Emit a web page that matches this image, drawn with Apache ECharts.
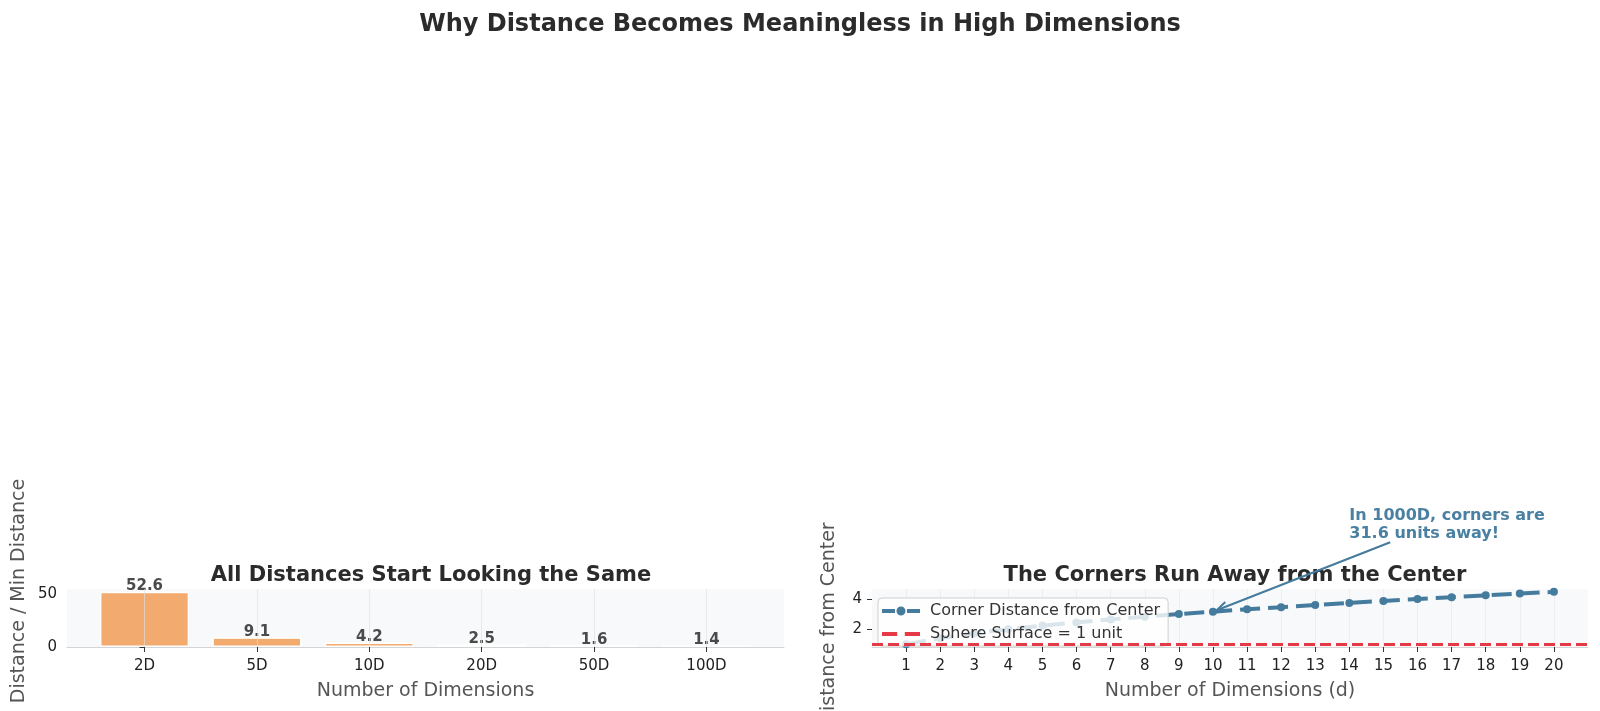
<!DOCTYPE html>
<html><head><meta charset="utf-8">
<script src="https://cdn.jsdelivr.net/npm/echarts@6/dist/echarts.min.js"></script>
<style>html,body{margin:0;padding:0;background:#fff}#c{width:1600px;height:711px}</style>
</head><body><div id="c"></div>
<script>
// ---- data ----
const dimLabels = ['2D', '5D', '10D', '20D', '50D', '100D'];
const distRatio = [52.6, 9.1, 4.2, 2.5, 1.6, 1.4];
const barYTicks = [0, 50];
const dims = [1, 2, 3, 4, 5, 6, 7, 8, 9, 10, 11, 12, 13, 14, 15, 16, 17, 18, 19, 20];
const cornerDist = [1.00, 1.41, 1.73, 2.00, 2.24, 2.45, 2.65, 2.83, 3.00, 3.16, 3.32, 3.46, 3.61, 3.74, 3.87, 4.00, 4.12, 4.24, 4.36, 4.47];
const lineYTicks = [2, 4];
const sphereRadius = 1;
const annotationText = 'In 1000D, corners are\n31.6 units away!';
const annotationPoint = [10, 3.16];
const annotationTextAt = [14, 7.7];
const arrowStartAt = [15.2, 7.75];

const FONT = 'DejaVu Sans';
const BLUE = '#457B9D';
const RED = '#E63946';
const ORANGE = '#F2AA6E';
const GRIDC = 'rgba(222,224,228,0.65)';

const ICON_CORNER = 'path://M0 3h13v4H0z M25 3h13v4H25z M23.5 5a4.5 4.5 0 1 1 -9 0a4.5 4.5 0 1 1 9 0z';
const ICON_SPHERE = 'path://M0 3.5h14v3.5H0z M21 3.5h14v3.5H21z';

const chart = echarts.init(document.getElementById('c'), null, {renderer: 'canvas'});

const option = {
  backgroundColor: '#ffffff',
  textStyle: {fontFamily: FONT},
  title: [
    {text: 'Why Distance Becomes Meaningless in High Dimensions', left: 'center', top: 8,
     textStyle: {fontFamily: FONT, fontSize: 24, fontWeight: 'bold', color: '#2b2b2b'}},
    {text: 'All Distances Start Looking the Same', left: 426, top: 560, textAlign: 'center',
     textStyle: {fontFamily: FONT, fontSize: 21, fontWeight: 'bold', color: '#2b2b2b'}},
    {text: 'The Corners Run Away from the Center', left: 1230, top: 560, textAlign: 'center',
     textStyle: {fontFamily: FONT, fontSize: 21, fontWeight: 'bold', color: '#2b2b2b'}}
  ],
  grid: [
    {left: 67, right: 816, top: 589, bottom: 64, show: true, backgroundColor: '#f8f9fa', borderWidth: 0, z: -5},
    {left: 872, right: 12, top: 589, bottom: 64, show: true, backgroundColor: '#f8f9fa', borderWidth: 0, z: -5}
  ],
  legend: {
    data: [
      {name: 'Corner Distance from Center', icon: ICON_CORNER, itemStyle: {color: BLUE}},
      {name: 'Sphere Surface = 1 unit', icon: ICON_SPHERE, itemStyle: {color: RED}}
    ],
    orient: 'vertical', left: 878, top: 598,
    backgroundColor: 'rgba(255,255,255,0.8)', borderColor: '#cfcfcf', borderWidth: 1, borderRadius: 4,
    padding: [5, 8, 4, 4], itemWidth: 38, itemHeight: 10, itemGap: 7,
    textStyle: {fontFamily: FONT, fontSize: 16, color: '#333', padding: [0, 0, 0, 5]}
  },
  xAxis: [
    {type: 'value', gridIndex: 0, min: -0.69, max: 5.69,
     axisLine: {show: true, lineStyle: {color: '#d4d4d4', width: 1}},
     axisTick: {show: true, customValues: [0, 1, 2, 3, 4, 5], length: 5, lineStyle: {color: '#333'}},
     axisLabel: {customValues: [0, 1, 2, 3, 4, 5], formatter: v => dimLabels[Math.round(v)] || '',
                 fontFamily: FONT, fontSize: 15, color: '#222', margin: 12},
     splitLine: {show: false},
     name: 'Number of Dimensions', nameLocation: 'middle', nameGap: 35,
     nameTextStyle: {fontFamily: FONT, fontSize: 19, color: '#555'}},
    {type: 'value', gridIndex: 1, min: 0, max: 21, interval: 1,
     axisLine: {show: true, lineStyle: {color: '#d4d4d4', width: 1}},
     axisTick: {show: true, customValues: dims, length: 5, lineStyle: {color: '#333'}},
     axisLabel: {customValues: dims, fontFamily: FONT, fontSize: 15, color: '#222', margin: 12},
     splitLine: {show: true, lineStyle: {color: 'rgba(228,230,234,0.55)', width: 1}},
     name: 'Number of Dimensions (d)', nameLocation: 'middle', nameGap: 35,
     nameTextStyle: {fontFamily: FONT, fontSize: 19, color: '#555'}}
  ],
  yAxis: [
    {type: 'value', gridIndex: 0, min: 0, max: 55.23,
     axisLine: {show: false},
     axisTick: {show: true, customValues: barYTicks, length: 5, lineStyle: {color: '#333'}},
     axisLabel: {customValues: barYTicks, fontFamily: FONT, fontSize: 15, color: '#222', margin: 10},
     splitLine: {show: false}},
    {type: 'value', gridIndex: 1, min: 0.826, max: 4.66,
     axisLine: {show: false},
     axisTick: {show: true, customValues: lineYTicks, length: 5, lineStyle: {color: '#333'}},
     axisLabel: {customValues: lineYTicks, fontFamily: FONT, fontSize: 15, color: '#222', margin: 10},
     splitLine: {show: false}}
  ],
  series: [
    {type: 'bar', name: 'ratio', xAxisIndex: 0, yAxisIndex: 0, z: 2,
     data: distRatio.map((v, i) => [i, v]), barWidth: 89,
     itemStyle: {color: ORANGE, borderColor: '#ffffff', borderWidth: 1.4},
     label: {show: true, position: 'top', distance: -2, fontFamily: FONT, fontSize: 15, fontWeight: 'bold', color: '#4a4a4a',
             formatter: p => p.value[1].toFixed(1)},
     markLine: {silent: true, symbol: ['none', 'none'], label: {show: false},
                lineStyle: {color: GRIDC, width: 1, type: 'solid'},
                data: dimLabels.map((_, i) => ({xAxis: i}))}},
    {type: 'line', name: 'Sphere Surface = 1 unit', xAxisIndex: 1, yAxisIndex: 1, data: [],
     showSymbol: false, symbol: 'none', color: RED,
     lineStyle: {color: RED, width: 3, type: [11, 5]},
     markLine: {silent: true, symbol: ['none', 'none'], label: {show: false},
                lineStyle: {color: RED, width: 3, type: [11, 5]},
                data: [{yAxis: sphereRadius}]}},
    {type: 'line', name: 'Corner Distance from Center', xAxisIndex: 1, yAxisIndex: 1,
     data: dims.map((d, i) => [d, cornerDist[i]]),
     symbol: 'circle', symbolSize: 8, showSymbol: true, color: BLUE,
     itemStyle: {color: BLUE},
     lineStyle: {color: BLUE, width: 4, type: [20, 8]}, z: 3}
  ]
};
chart.setOption(option);

function drawExtras() {
  const p = chart.convertToPixel({gridIndex: 1}, annotationPoint);
  const s = chart.convertToPixel({gridIndex: 1}, arrowStartAt);
  const t = chart.convertToPixel({gridIndex: 1}, annotationTextAt);
  const dx = s[0] - p[0], dy = s[1] - p[1];
  const L = Math.sqrt(dx * dx + dy * dy);
  const ux = dx / L, uy = dy / L;
  const ex = p[0] + ux * 4, ey = p[1] + uy * 4;
  const hl = 11, hw = 4.5;
  const bx = ex + ux * hl, by = ey + uy * hl;
  const nx = -uy, ny = ux;
  chart.setOption({
    graphic: [
      {type: 'text', x: 19, y: 591, rotation: Math.PI / 2,
       style: {text: 'Distance / Min Distance', fill: '#555', font: '19px "DejaVu Sans"', align: 'center', verticalAlign: 'middle'}},
      {type: 'text', x: 829, y: 624, rotation: Math.PI / 2,
       style: {text: 'Distance from Center', fill: '#555', font: '19px "DejaVu Sans"', align: 'center', verticalAlign: 'middle'}},
      {type: 'text', x: t[0], y: t[1], z: 10,
       style: {text: annotationText, fill: '#4a80a2', font: 'bold 16px "DejaVu Sans"', lineHeight: 18, align: 'left', verticalAlign: 'bottom'}},
      {type: 'line', z: 10, shape: {x1: s[0], y1: s[1], x2: ex, y2: ey},
       style: {stroke: BLUE, lineWidth: 2}},
      {type: 'polyline', z: 10,
       shape: {points: [[bx + nx * hw, by + ny * hw], [ex, ey], [bx - nx * hw, by - ny * hw]]},
       style: {stroke: BLUE, lineWidth: 2, fill: null}}
    ]
  });
}
drawExtras();
</script>
</body></html>
